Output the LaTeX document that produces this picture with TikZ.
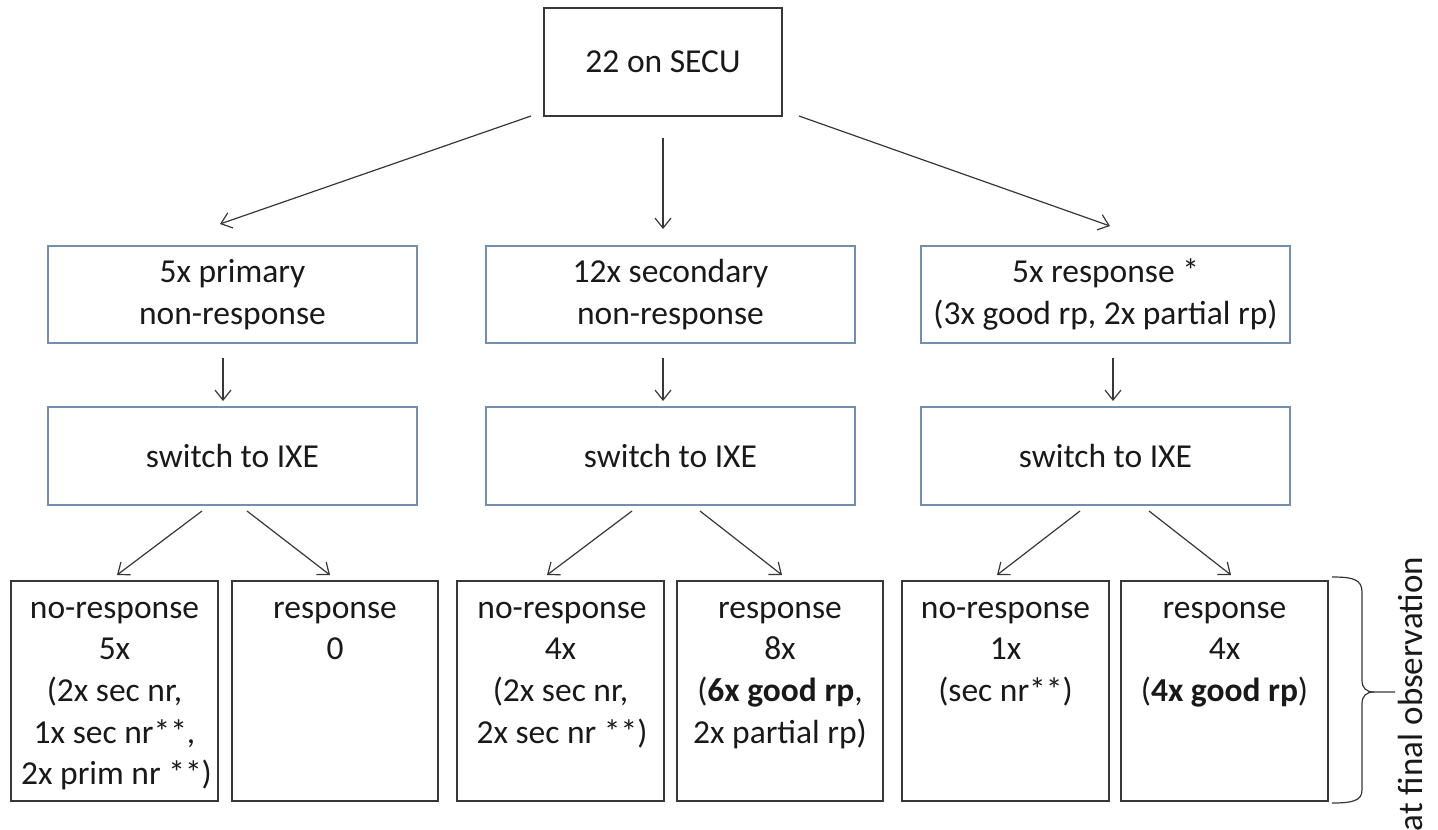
\documentclass[tikz,border=0pt]{standalone}
\usepackage{fontspec}
\setmainfont{Carlito}
\usetikzlibrary{arrows.meta,calc}
\definecolor{ink}{RGB}{25,25,25}
\definecolor{edge}{RGB}{55,55,55}
\definecolor{bluebox}{RGB}{115,142,175}
\newcommand{\boxfont}{\fontsize{33.5}{41.7}\selectfont}
\begin{document}
\begin{tikzpicture}[x=1pt,y=-1pt,
  every node/.style={inner sep=0pt, outer sep=0pt, text=ink},
  topbox/.style={draw=edge, line width=1.3pt, minimum width=238pt, minimum height=108pt, font=\boxfont},
  midbox/.style={draw=bluebox, line width=1.3pt, minimum width=369pt, align=center, font=\boxfont},
  leafbox/.style={draw=edge, line width=1.3pt, minimum height=220pt},
  leaftext/.style={anchor=base, font=\boxfont},
  arr/.style={draw=edge, line width=1.2pt, -{Straight Barb[length=10pt,width=16pt]}}
]
\useasboundingbox (0,0) rectangle (1438,830);

% top
\node[topbox] (top) at (663,62) {22 on SECU};

% middle row
\node[midbox, minimum height=97pt] (m1) at (232.5,294.5) {5x primary\\non-response};
\node[midbox, minimum height=97pt] (m2) at (670.5,294.5) {12x secondary\\non-response};
\node[midbox, minimum height=97pt] (m3) at (1105.5,294.5) {5x response *\\(3x good rp, 2x partial rp)};

\node[midbox, minimum height=98pt] (s1) at (232.5,456) {switch to IXE};
\node[midbox, minimum height=98pt] (s2) at (670.5,456) {switch to IXE};
\node[midbox, minimum height=98pt] (s3) at (1105.5,456) {switch to IXE};

% leaves
\node[leafbox, minimum width=207pt] (b1) at (114.5,691) {};
\node[leafbox, minimum width=206pt] (b2) at (335,691) {};
\node[leafbox, minimum width=207pt] (b3) at (560.5,691) {};
\node[leafbox, minimum width=206pt] (b4) at (780,691) {};
\node[leafbox, minimum width=207pt] (b5) at (1005.5,691) {};
\node[leafbox, minimum width=207pt] (b6) at (1224.5,691) {};

\node[leaftext] (t1) at ([yshift=-37pt]b1.north) {\parbox[t]{207pt}{\centering no-response\\5x\\(2x sec nr,\hspace*{12pt}\\1x sec nr**,\\\hspace*{4pt}2x prim nr **)}};
\node[leaftext] (t2) at ([yshift=-37pt]b2.north) {\parbox[t]{206pt}{\centering response\\0}};
\node[leaftext] (t3) at ([yshift=-37pt]b3.north) {\parbox[t]{207pt}{\centering \hspace*{3pt}no-response\\4x\hspace*{12pt}\\(2x sec nr,\hspace*{14pt}\\\hspace*{3pt}2x sec nr **)}};
\node[leaftext] (t4) at ([yshift=-37pt]b4.north) {\parbox[t]{206pt}{\centering response\hspace*{10pt}\\8x\hspace*{12pt}\\(\textbf{6x good rp},\\2x partial rp)}};
\node[leaftext] (t5) at ([yshift=-37pt]b5.north) {\parbox[t]{207pt}{\centering no-response\\1x\\(sec nr**)}};
\node[leaftext] (t6) at ([yshift=-37pt]b6.north) {\parbox[t]{207pt}{\centering response\\4x\\(\textbf{4x good rp})}};

% arrows from top
\draw[arr] ([xshift=-13pt]top.south west) -- ([xshift=-12.5pt,yshift=22pt]m1.north);
\draw[arr] ([yshift=-22pt]top.south) -- ([xshift=-7.5pt,yshift=17pt]m2.north);
\draw[arr] ([xshift=17pt]top.south east) -- ([xshift=4.5pt,yshift=20pt]m3.north);

% vertical arrows
\draw[arr] ([xshift=-9.5pt,yshift=-15pt]m1.south) -- ([xshift=-9.5pt,yshift=6pt]s1.north);
\draw[arr] ([xshift=-7.5pt,yshift=-15pt]m2.south) -- ([xshift=-7.5pt,yshift=6pt]s2.north);
\draw[arr] ([xshift=7.5pt,yshift=-15pt]m3.south) -- ([xshift=7.5pt,yshift=6pt]s3.north);

% diagonal arrows
\draw[arr] ([xshift=-30.5pt,yshift=-6pt]s1.south) -- ([xshift=2.5pt,yshift=6pt]b1.north);
\draw[arr] ([xshift=14.5pt,yshift=-6pt]s1.south) -- ([xshift=-5pt,yshift=6pt]b2.north);
\draw[arr] ([xshift=-38.5pt,yshift=-6pt]s2.south) -- ([xshift=-13.5pt,yshift=6pt]b3.north);
\draw[arr] ([xshift=29.5pt,yshift=-6pt]s2.south) -- ([xshift=2pt,yshift=6pt]b4.north);
\draw[arr] ([xshift=-25.5pt,yshift=-6pt]s3.south) -- ([xshift=-8.5pt,yshift=6pt]b5.north);
\draw[arr] ([xshift=43.5pt,yshift=-6pt]s3.south) -- ([xshift=6.5pt,yshift=6pt]b6.north);

% brace
\draw[edge, line width=1.2pt]
  (1332,577) .. controls (1352,577) and (1362,579) .. (1362,592) -- (1362,680)
  .. controls (1362,688) and (1366,692) .. (1374,692) -- (1395,692);
\draw[edge, line width=1.2pt]
  (1374,692) .. controls (1366,692) and (1362,696) .. (1362,704) -- (1362,790)
  .. controls (1362,801) and (1352,803) .. (1332,803);
\node[rotate=90, anchor=base, font=\fontsize{35}{42}\selectfont] (lbl) at (1422,694) {at final observation};
\end{tikzpicture}
\end{document}
